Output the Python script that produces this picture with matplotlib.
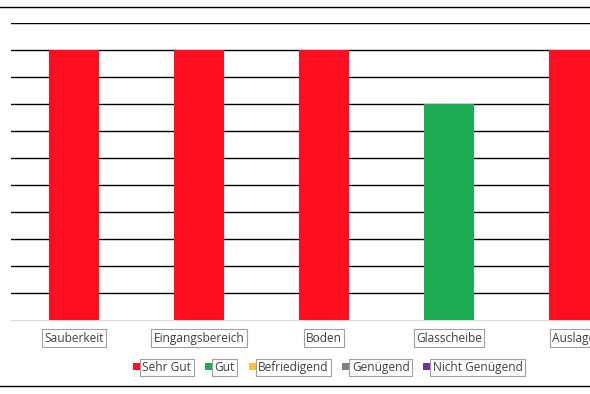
import numpy as np
import matplotlib
matplotlib.use("Agg")
import matplotlib.pyplot as plt
from matplotlib.patches import Rectangle
from matplotlib.lines import Line2D

# Daten
categories = ["Sauberkeit", "Eingangsbereich", "Boden", "Glasscheibe", "Auslage"]
values = [10, 10, 10, 8, 10]
ratings = ["Sehr Gut", "Sehr Gut", "Sehr Gut", "Gut", "Sehr Gut"]
legend_labels = ["Sehr Gut", "Gut", "Befriedigend", "Genügend", "Nicht Genügend"]
legend_colors = ["#FF0D20", "#1DAB53", "#FFC03A", "#808080", "#7030A0"]
color_of = dict(zip(legend_labels, legend_colors))

W, H = 590, 394
FS = 8.6
plt.rcParams["font.family"] = ["Open Sans", "DejaVu Sans"]
fig = plt.figure(figsize=(W / 100, H / 100), dpi=100)

# Achse: links bei x=11px, oben bei y=23px, unten bei y=320px
ax = fig.add_axes([11 / W, (H - 320) / H, (W - 11) / W, (320 - 23) / H])
x = np.arange(len(categories))
ax.bar(x, values, width=0.4, color=[color_of[r] for r in ratings], zorder=3)

ax.set_xlim((11 - 74) / 125, (W - 74) / 125)
ax.set_ylim(0, 11)
ax.set_yticks(np.arange(1, 12))
ax.yaxis.grid(True, color="black", linewidth=1.0, zorder=0)
ax.tick_params(axis="y", left=False, labelleft=False)
ax.tick_params(axis="x", length=0, pad=8.5)
for s in ["top", "right", "left"]:
    ax.spines[s].set_visible(False)
ax.spines["bottom"].set_color("#d9d9d9")
ax.set_xticks(x)
ax.set_xticklabels(categories, fontsize=FS, color="#404040")
for lbl in ax.get_xticklabels():
    lbl.set_bbox(dict(facecolor="white", edgecolor="#a0a0a0", linewidth=0.8,
                      boxstyle="square,pad=0.2"))

# Linien oben und unten
fig.add_artist(Line2D([0, 1], [1 - 7 / H, 1 - 7 / H], color="black", linewidth=1.0,
                      transform=fig.transFigure))
fig.add_artist(Line2D([0, 1], [1 - 386 / H, 1 - 386 / H], color="black", linewidth=1.0,
                      transform=fig.transFigure))

# Legende manuell
fig.canvas.draw()
renderer = fig.canvas.get_renderer()
xpos = 133
ly = 366
pad_px = 0.2 * FS * 100 / 72
for lab, col in zip(legend_labels, legend_colors):
    fig.add_artist(Rectangle((xpos / W, 1 - (ly + 3.5) / H), 7 / W, 7 / H,
                             facecolor=col, edgecolor="none", transform=fig.transFigure))
    t = fig.text((xpos + 7 + pad_px) / W, 1 - ly / H, lab, fontsize=FS, color="#404040",
                 va="center_baseline", ha="left",
                 bbox=dict(facecolor="white", edgecolor="#a0a0a0", linewidth=0.8,
                           boxstyle="square,pad=0.2"))
    fig.canvas.draw()
    bb = t.get_bbox_patch().get_window_extent(renderer)
    xpos = bb.x1 + 11.5

fig.savefig("out.png", dpi=100)
